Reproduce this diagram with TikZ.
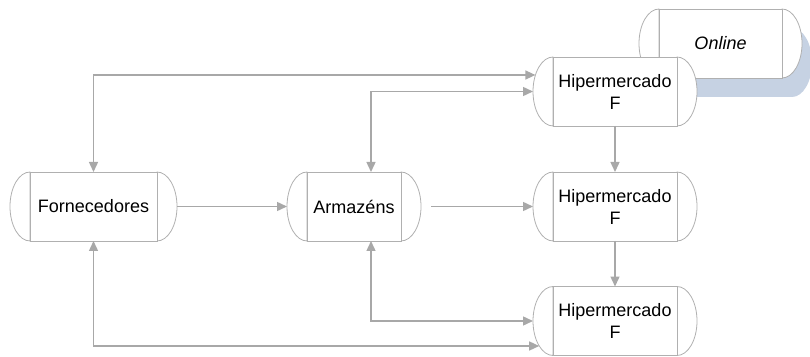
\documentclass[tikz,border=0pt]{standalone}
\usepackage{fontspec}
\setmainfont{Liberation Sans}
\usepackage{xcolor}
\usepackage{tikz}
\usetikzlibrary{positioning,arrows.meta,calc}
\definecolor{boxgray}{HTML}{B0B0B0}
\definecolor{arrgray}{HTML}{A8A8A8}
\definecolor{shadowblue}{HTML}{C6D2E3}
\tikzset{
  boxline/.style={draw=boxgray, fill=white, line width=0.8pt},
  capbox/.style={rectangle, boxline, minimum width=#1, minimum height=69pt, inner sep=0pt, outer sep=0pt,
    align=center, font=\fontsize{18}{22}\selectfont,
    append after command={\pgfextra{\let\cb\tikzlastnode
      \path[boxline] (\cb.north west) arc[start angle=90, end angle=270, x radius=20pt, y radius=34.5pt] -- cycle
                 (\cb.north east) arc[start angle=90, end angle=-90, x radius=20pt, y radius=34.5pt] -- cycle;}}},
  link/.style={draw=arrgray, line width=1.4pt, -{Triangle[length=10pt,width=9pt]}},
  dlink/.style={draw=arrgray, line width=1.4pt, {Triangle[length=10pt,width=9pt]}-{Triangle[length=10pt,width=9pt]}}
}
\begin{document}
\begin{tikzpicture}[x=1pt, y=1pt]
  \useasboundingbox (0,0) rectangle (810,356);
  \clip (0,0) rectangle (810,356);
  % shadow under the online box
  \coordinate (onc) at (720.5,312.5);
  \fill[shadowblue] ($(onc)+(-51.5,15.5)$) arc[start angle=90, end angle=270, x radius=20, y radius=34.5]
    -- ++(123,0) arc[start angle=-90, end angle=90, x radius=20, y radius=34.5] -- cycle;
  \node[capbox=123pt] (online) at (onc) {\itshape Online};
  \node[capbox=127pt] (forn) at (93.5,149.5) {Fornecedores};
  \node[capbox=94pt] (arm) at (354,149.5) {Armazéns};
  \node[capbox=124pt] (hyp1) at (615,264.5) {Hipermercado\\F};
  \node[capbox=124pt] (hyp2) at (615,149.5) {Hipermercado\\F};
  \node[capbox=124pt] (hyp3) at (615,35) {Hipermercado\\F};
  % connectors
  \draw[dlink] (forn.north) |- ([xshift=-17.6pt,yshift=16.5pt]hyp1.west);
  \draw[dlink] ([xshift=17pt]arm.north) |- ([xshift=-20pt]hyp1.west);
  \draw[link] ([xshift=20pt]forn.east) -- ([xshift=-20pt]arm.west);
  \draw[link] ([xshift=30pt]arm.east) -- ([xshift=-20pt]hyp2.west);
  \draw[link] (hyp1.south) -- (hyp2.north);
  \draw[link] (hyp2.south) -- (hyp3.north);
  \draw[dlink] (forn.south) |- ([xshift=-13.8pt,yshift=-25pt]hyp3.west);
  \draw[dlink] ([xshift=17pt]arm.south) |- ([xshift=-20pt]hyp3.west);
\end{tikzpicture}
\end{document}
